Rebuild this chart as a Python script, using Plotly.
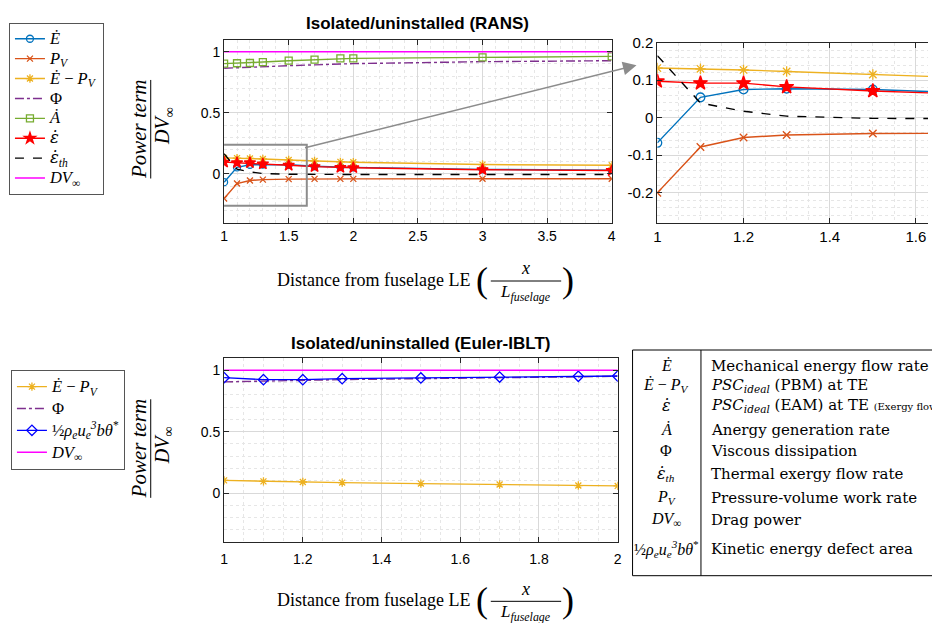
import plotly.graph_objects as go

W, H = 932, 623

# ---------------- data ----------------
x_rans = [1, 1.1, 1.2, 1.3, 1.5, 1.7, 1.9, 2, 3, 4]
rans_E_dot = [-0.067, 0.054, 0.075, 0.077, 0.075, 0.063, 0.057, 0.054, 0.038, 0.030]
rans_P_V = [-0.200, -0.078, -0.053, -0.046, -0.042, -0.040, -0.040, -0.040, -0.039, -0.039]
rans_E_minus_PV = [0.132, 0.130, 0.127, 0.123, 0.115, 0.106, 0.099, 0.096, 0.077, 0.071]
rans_Phi = [0.865, 0.870, 0.874, 0.878, 0.886, 0.893, 0.899, 0.903, 0.919, 0.927]
rans_A_dot = [0.903, 0.906, 0.908, 0.916, 0.927, 0.935, 0.946, 0.946, 0.954, 0.962]
rans_eps = [0.097, 0.092, 0.092, 0.082, 0.071, 0.060, 0.053, 0.051, 0.035, 0.028]
rans_eps_th = [0.165, 0.039, 0.017, 0.004, -0.002, -0.004, -0.004, -0.004, -0.004, -0.004]
rans_DV = [1, 1, 1, 1, 1, 1, 1, 1, 1, 1]

x_euler = [1, 1.1, 1.2, 1.3, 1.5, 1.7, 1.9, 2]
euler_E_minus_PV = [0.103, 0.095, 0.090, 0.085, 0.077, 0.069, 0.061, 0.058]
euler_Phi = [0.905, 0.913, 0.918, 0.923, 0.931, 0.939, 0.944, 0.950]
euler_KE_defect = [0.939, 0.923, 0.923, 0.931, 0.937, 0.944, 0.950, 0.952]
euler_DV = [1, 1, 1, 1, 1, 1, 1, 1]

inset_y_tickvals = [0.2, 0.1, 0, -0.1, -0.2]
inset_y_ticktext = ["0.2", "0.1", "0", "-0.1", "-0.2"]

EPS = "<span style='font-family:DejaVu Serif'><i>ε̇</i></span>"
EPS_TH = "<span style='font-family:DejaVu Serif'><i>ε̇</i></span><i><sub>th</sub></i>"

N_E = "<i>Ė</i>"
N_PV = "<i>P<sub>V</sub></i>"
N_EPV = "<i>Ė</i> − <i>P<sub>V</sub></i>"
N_PHI = "Φ"
N_A = "<i>Ȧ</i>"
N_DV = "<i>DV</i><sub>∞</sub>"
N_KE = "½<i>ρ<sub>e</sub>u<sub>e</sub><sup>3</sup>bθ</i><sup>*</sup>"

table_symbols = [N_E, N_EPV, EPS, N_A, N_PHI, EPS_TH, N_PV, N_DV, N_KE]
table_desc = [
    "Mechanical energy flow rate",
    "<i>PSC<sub>ideal</sub></i> (PBM) at TE",
    "<i>PSC<sub>ideal</sub></i> (EAM) at TE <span style='font-size:10px'>(Exergy flow)</span>",
    "Anergy generation rate",
    "Viscous dissipation",
    "Thermal exergy flow rate",
    "Pressure-volume work rate",
    "Drag power",
    "Kinetic energy defect area",
]

# ---------------- helpers ----------------
def PX(x):
    return x / W


def PY(y):
    return 1 - y / H


SERIF = "Liberation Serif"
SANS = "Liberation Sans"
AXC = "#262626"

C_BLUE = "#0072BD"
C_ORANGE = "#D95319"
C_YELLOW = "#EDB120"
C_PURPLE = "#7E2F8E"
C_GREEN = "#77AC30"


def big(t):
    return "<span style='font-size:16.5px'>" + t + "</span>"


fig = go.Figure()


def add(x, y, name, color, xa, ya, legend, show, symbol=None, msize=7, dash="solid"):
    mode = "lines+markers" if symbol else "lines"
    marker = None
    if symbol:
        marker = dict(symbol=symbol, size=msize, color=color,
                      line=dict(color=color, width=1.3))
    fig.add_trace(go.Scatter(
        x=x, y=y, name=big(name), mode=mode, xaxis=xa, yaxis=ya,
        line=dict(color=color, width=1.4, dash=dash),
        marker=marker, showlegend=show, legend=legend, cliponaxis=True))


def rans_traces(xa, ya, show, k):
    add(x_rans, rans_E_dot, N_E, C_BLUE, xa, ya, "legend", show, "circle-open", 7 * k)
    add(x_rans, rans_P_V, N_PV, C_ORANGE, xa, ya, "legend", show, "x-thin-open", 6 * k)
    add(x_rans, rans_E_minus_PV, N_EPV, C_YELLOW, xa, ya, "legend", show, "asterisk-open", 7 * k)
    add(x_rans, rans_Phi, N_PHI, C_PURPLE, xa, ya, "legend", show, dash="dashdot")
    add(x_rans, rans_A_dot, N_A, C_GREEN, xa, ya, "legend", show, "square-open", 7 * k)
    add(x_rans, rans_eps, EPS, "#FF0000", xa, ya, "legend", show, "star", 8.5 * k)
    add(x_rans, rans_eps_th, EPS_TH, "#000000", xa, ya, "legend", show, dash="dash")
    add(x_rans, rans_DV, N_DV, "#FF00FF", xa, ya, "legend", show)


rans_traces("x", "y", True, 1.0)
rans_traces("x3", "y3", False, 1.25)

add(x_euler, euler_E_minus_PV, N_EPV, C_YELLOW, "x2", "y2", "legend2", True, "asterisk-open", 7)
add(x_euler, euler_Phi, N_PHI, C_PURPLE, "x2", "y2", "legend2", True, dash="dashdot")
add(x_euler, euler_KE_defect, N_KE, "#0000FF", "x2", "y2", "legend2", True, "diamond-open", 8)
add(x_euler, euler_DV, N_DV, "#FF00FF", "x2", "y2", "legend2", True)


def axis(domain, rng, dtick, minor_dtick, tick0, anchor, mirror="ticks", size=14, **kw):
    d = dict(domain=domain, range=rng, dtick=dtick, tick0=tick0, anchor=anchor,
             showgrid=True, gridcolor="#d9d9d9", gridwidth=1,
             minor=dict(dtick=minor_dtick, tick0=tick0, showgrid=True,
                        gridcolor="#e6e6e6", griddash="dot", gridwidth=1),
             showline=True, linecolor=AXC, linewidth=1, mirror=mirror,
             ticks="inside", ticklen=5, tickcolor=AXC,
             tickfont=dict(family=SANS, size=size, color="#000000"),
             zeroline=False, fixedrange=True)
    d.update(kw)
    return d


fig.update_layout(
    width=W, height=H, margin=dict(l=0, r=0, t=0, b=0),
    paper_bgcolor="white", plot_bgcolor="white", showlegend=True,
    xaxis=axis([PX(222), PX(613)], [1, 4], 0.5, 0.1, 1, "y"),
    yaxis=axis([PY(217), PY(31)], [-0.4, 1.1], 0.5, 0.1, 0, "x"),
    xaxis2=axis([PX(222), PX(619)], [1, 2], 0.2, 0.05, 1, "y2", ticklabelstandoff=4),
    yaxis2=axis([PY(541), PY(354)], [-0.4, 1.1], 0.5, 0.1, 0, "x2"),
    xaxis3=axis([PX(659), 1.0], [1, 1.628], 0.2, 0.05, 1, "y3", size=15),
    yaxis3=axis([PY(217), PY(34)], [-0.28, 0.2], 0.1, 0.02, 0, "x3", mirror=False, size=15,
                tickmode="array", tickvals=inset_y_tickvals, ticktext=inset_y_ticktext),
    legend=dict(x=PX(5), y=PY(14), xanchor="left", yanchor="top",
                bgcolor="white", bordercolor="#555555", borderwidth=1,
                font=dict(family=SERIF, size=13, color="#000000"),
                tracegroupgap=0, itemwidth=30),
    legend2=dict(x=PX(7), y=PY(366), xanchor="left", yanchor="top",
                 bgcolor="white", bordercolor="#555555", borderwidth=1,
                 font=dict(family=SERIF, size=14.5, color="#000000"),
                 tracegroupgap=0, itemwidth=30),
)

annotations = []
shapes = []


def ann(x, y, text, size, family=SERIF, xanchor="center", yanchor="middle", angle=0, color="#000000"):
    annotations.append(dict(x=PX(x), y=PY(y), xref="paper", yref="paper", text=text,
                            showarrow=False, xanchor=xanchor, yanchor=yanchor,
                            textangle=angle, font=dict(family=family, size=size, color=color)))


def pline(x0, y0, x1, y1, color="#000000", width=1):
    shapes.append(dict(type="line", xref="paper", yref="paper", x0=PX(x0), y0=PY(y0),
                       x1=PX(x1), y1=PY(y1), line=dict(color=color, width=width)))


# titles
ann(417, 15, "<b>Isolated/uninstalled (RANS)</b>", 17, SANS)
ann(420, 339, "<b>Isolated/uninstalled (Euler-IBLT)</b>", 17, SANS)

# y-axis labels (fractions)
for yc in (122, 446):
    ann(136, yc, "<i>Power term</i>", 21, angle=-90)
    ann(161, yc - 3, "<i>DV</i><sub>∞</sub>", 20, angle=-90)
    pline(148, yc - 50, 148, yc + 50, "#000000", 1)

# x-axis labels
for yc in (275, 600):
    ann(472, yc, "Distance from fuselage LE", 18, xanchor="right")
    ann(482, yc, "(", 36)
    ann(569, yc, ")", 36)
    ann(526, yc - 12, "<i>x</i>", 18)
    ann(526, yc + 13, "<i>L<sub>fuselage</sub></i>", 17)
    pline(491, yc + 1, 562, yc + 1, "#000000", 1)

# zoom box and arrow
shapes.append(dict(type="rect", xref="x", yref="y", x0=0.97, x1=1.64, y0=-0.26, y1=0.24,
                   line=dict(color="#8c8c8c", width=2), layer="above"))
annotations.append(dict(x=PX(638), y=PY(57), xref="paper", yref="paper", text="",
                        showarrow=True, ax=305 - 638, ay=140 - 57, axref="pixel", ayref="pixel",
                        arrowhead=2, arrowsize=1.7, arrowwidth=1.6, arrowcolor="#8c8c8c",
                        standoff=0, startstandoff=0))

# table
shapes.append(dict(type="rect", xref="paper", yref="paper", x0=PX(634), x1=PX(945),
                   y0=PY(575), y1=PY(346), line=dict(color="#000000", width=1)))
pline(703, 346, 703, 575)
row_y = [362, 382, 402, 427, 448, 472, 496, 518, 548]
for yy, sym, desc in zip(row_y, table_symbols, table_desc):
    ann(668, yy, sym, 16)
    ann(711, yy, desc, 15, family="DejaVu Serif", xanchor="left")

fig.update_layout(annotations=annotations, shapes=shapes)

fig.write_html("out.html", config={"displayModeBar": False},
               post_script="document.body.style.margin='0';document.body.style.overflow='hidden';")
